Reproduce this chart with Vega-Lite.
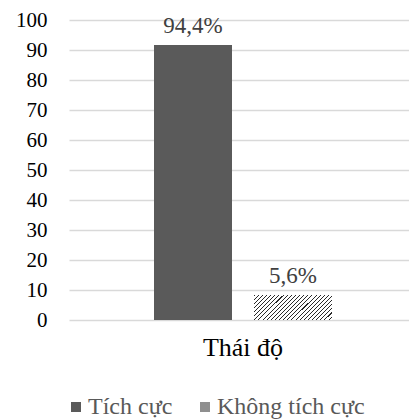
{
  "$schema": "https://vega.github.io/schema/vega-lite/v6.json",
  "autosize": {"type": "none"},
  "padding": {"left": 69, "top": 20, "right": 0, "bottom": 99},
  "width": 348,
  "height": 300,
  "background": "white",
  "config": {
    "view": {"stroke": null},
    "font": "Liberation Serif",
    "text": {"font": "Liberation Serif"},
    "legend": {"labelFont": "Liberation Serif"}
  },
  "data": {
    "values": [
      {"group": "Thái độ", "series": "Tích cực", "value": 91.7, "label": "94,4%"},
      {"group": "Thái độ", "series": "Không tích cực", "value": 8.3, "label": "5,6%"}
    ]
  },
  "encoding": {
    "x": {
      "field": "group", "type": "nominal",
      "scale": {"paddingInner": 0, "paddingOuter": 0},
      "axis": {"title": null, "labelAngle": 0, "labelFontSize": 26, "labelColor": "#000000", "labelFont": "Liberation Serif", "ticks": false, "domain": false, "labelPadding": 14}
    },
    "xOffset": {
      "field": "series", "type": "nominal",
      "sort": ["Tích cực", "Không tích cực"],
      "scale": {"domain": ["Tích cực", "Không tích cực"], "paddingInner": 0.22, "paddingOuter": 0.85}
    },
    "y": {
      "field": "value", "type": "quantitative",
      "scale": {"domain": [0, 100], "nice": false},
      "axis": {"title": null, "values": [0,10,20,30,40,50,60,70,80,90,100], "labelFontSize": 21, "labelColor": "#000000", "labelFont": "Liberation Serif", "ticks": false, "domain": false, "labelPadding": 22, "gridColor": "#d9d9d9", "gridWidth": 1.3}
    }
  },
  "layer": [
    {
      "mark": {"type": "bar"},
      "encoding": {
        "fill": {
          "field": "series", "type": "nominal",
          "sort": ["Tích cực", "Không tích cực"],
          "scale": {"domain": ["Tích cực", "Không tích cực"], "range": ["#5a5a5a", "#8f8f8f"]},
          "legend": {
            "title": null, "orient": "none", "legendX": -5, "legendY": 375, "padding": 0,
            "direction": "horizontal", "symbolType": "square", "symbolSize": 100,
            "symbolStrokeWidth": 0, "labelFontSize": 24, "labelColor": "#595959",
            "labelFont": "Liberation Serif", "labelOffset": 0, "columnPadding": 20
          }
        }
      }
    },
    {
      "transform": [{"filter": "datum.series === 'Không tích cực'"}],
      "mark": {
        "type": "bar",
        "fill": {
          "gradient": "linear", "x1": 0, "y1": 0, "x2": 1.2, "y2": 0.385,
          "stops": [
            {"offset": 0, "color": "#2a2a2a"}, {"offset": 0.01, "color": "#2a2a2a"}, {"offset": 0.01, "color": "#ffffff"}, {"offset": 0.04, "color": "#ffffff"},
            {"offset": 0.04, "color": "#2a2a2a"}, {"offset": 0.05, "color": "#2a2a2a"}, {"offset": 0.05, "color": "#ffffff"}, {"offset": 0.08, "color": "#ffffff"},
            {"offset": 0.08, "color": "#2a2a2a"}, {"offset": 0.09, "color": "#2a2a2a"}, {"offset": 0.09, "color": "#ffffff"}, {"offset": 0.12, "color": "#ffffff"},
            {"offset": 0.12, "color": "#2a2a2a"}, {"offset": 0.13, "color": "#2a2a2a"}, {"offset": 0.13, "color": "#ffffff"}, {"offset": 0.16, "color": "#ffffff"},
            {"offset": 0.16, "color": "#2a2a2a"}, {"offset": 0.17, "color": "#2a2a2a"}, {"offset": 0.17, "color": "#ffffff"}, {"offset": 0.2, "color": "#ffffff"},
            {"offset": 0.2, "color": "#2a2a2a"}, {"offset": 0.21, "color": "#2a2a2a"}, {"offset": 0.21, "color": "#ffffff"}, {"offset": 0.24, "color": "#ffffff"},
            {"offset": 0.24, "color": "#2a2a2a"}, {"offset": 0.25, "color": "#2a2a2a"}, {"offset": 0.25, "color": "#ffffff"}, {"offset": 0.28, "color": "#ffffff"},
            {"offset": 0.28, "color": "#2a2a2a"}, {"offset": 0.29, "color": "#2a2a2a"}, {"offset": 0.29, "color": "#ffffff"}, {"offset": 0.32, "color": "#ffffff"},
            {"offset": 0.32, "color": "#2a2a2a"}, {"offset": 0.33, "color": "#2a2a2a"}, {"offset": 0.33, "color": "#ffffff"}, {"offset": 0.36, "color": "#ffffff"},
            {"offset": 0.36, "color": "#2a2a2a"}, {"offset": 0.37, "color": "#2a2a2a"}, {"offset": 0.37, "color": "#ffffff"}, {"offset": 0.4, "color": "#ffffff"},
            {"offset": 0.4, "color": "#2a2a2a"}, {"offset": 0.41, "color": "#2a2a2a"}, {"offset": 0.41, "color": "#ffffff"}, {"offset": 0.44, "color": "#ffffff"},
            {"offset": 0.44, "color": "#2a2a2a"}, {"offset": 0.45, "color": "#2a2a2a"}, {"offset": 0.45, "color": "#ffffff"}, {"offset": 0.48, "color": "#ffffff"},
            {"offset": 0.48, "color": "#2a2a2a"}, {"offset": 0.49, "color": "#2a2a2a"}, {"offset": 0.49, "color": "#ffffff"}, {"offset": 0.52, "color": "#ffffff"},
            {"offset": 0.52, "color": "#2a2a2a"}, {"offset": 0.53, "color": "#2a2a2a"}, {"offset": 0.53, "color": "#ffffff"}, {"offset": 0.56, "color": "#ffffff"},
            {"offset": 0.56, "color": "#2a2a2a"}, {"offset": 0.57, "color": "#2a2a2a"}, {"offset": 0.57, "color": "#ffffff"}, {"offset": 0.6, "color": "#ffffff"},
            {"offset": 0.6, "color": "#2a2a2a"}, {"offset": 0.61, "color": "#2a2a2a"}, {"offset": 0.61, "color": "#ffffff"}, {"offset": 0.64, "color": "#ffffff"},
            {"offset": 0.64, "color": "#2a2a2a"}, {"offset": 0.65, "color": "#2a2a2a"}, {"offset": 0.65, "color": "#ffffff"}, {"offset": 0.68, "color": "#ffffff"},
            {"offset": 0.68, "color": "#2a2a2a"}, {"offset": 0.69, "color": "#2a2a2a"}, {"offset": 0.69, "color": "#ffffff"}, {"offset": 0.72, "color": "#ffffff"},
            {"offset": 0.72, "color": "#2a2a2a"}, {"offset": 0.73, "color": "#2a2a2a"}, {"offset": 0.73, "color": "#ffffff"}, {"offset": 0.76, "color": "#ffffff"},
            {"offset": 0.76, "color": "#2a2a2a"}, {"offset": 0.77, "color": "#2a2a2a"}, {"offset": 0.77, "color": "#ffffff"}, {"offset": 0.8, "color": "#ffffff"},
            {"offset": 0.8, "color": "#2a2a2a"}, {"offset": 0.81, "color": "#2a2a2a"}, {"offset": 0.81, "color": "#ffffff"}, {"offset": 0.84, "color": "#ffffff"},
            {"offset": 0.84, "color": "#2a2a2a"}, {"offset": 0.85, "color": "#2a2a2a"}, {"offset": 0.85, "color": "#ffffff"}, {"offset": 0.88, "color": "#ffffff"},
            {"offset": 0.88, "color": "#2a2a2a"}, {"offset": 0.89, "color": "#2a2a2a"}, {"offset": 0.89, "color": "#ffffff"}, {"offset": 0.92, "color": "#ffffff"},
            {"offset": 0.92, "color": "#2a2a2a"}, {"offset": 0.93, "color": "#2a2a2a"}, {"offset": 0.93, "color": "#ffffff"}, {"offset": 0.96, "color": "#ffffff"},
            {"offset": 0.96, "color": "#2a2a2a"}, {"offset": 0.97, "color": "#2a2a2a"}, {"offset": 0.97, "color": "#ffffff"}, {"offset": 1, "color": "#ffffff"}
          ]
        }
      }
    },
    {
      "mark": {"type": "text", "baseline": "bottom", "dy": -7, "fontSize": 23, "color": "#404040", "font": "Liberation Serif"},
      "encoding": {"text": {"field": "label"}}
    }
  ]
}
